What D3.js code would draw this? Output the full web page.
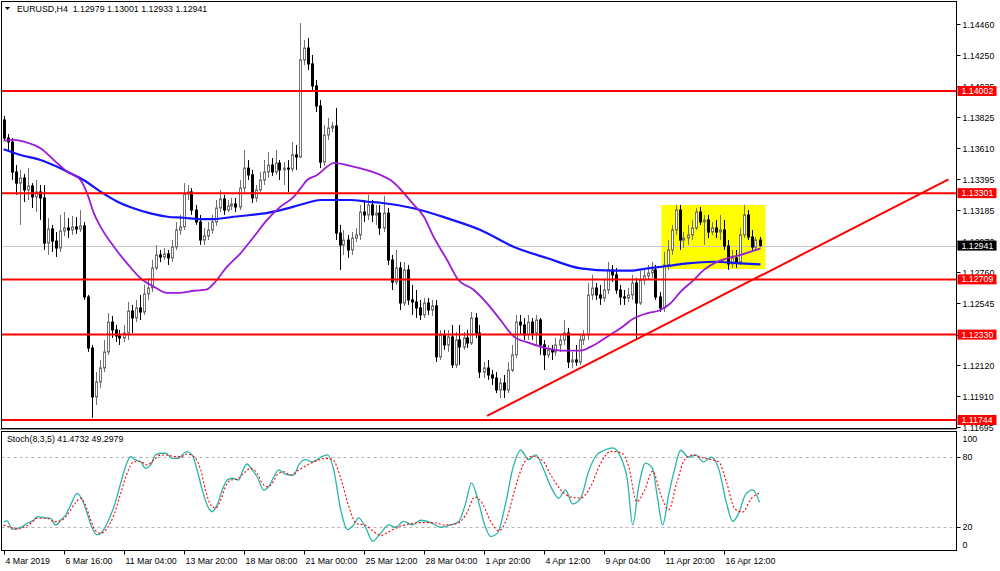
<!DOCTYPE html>
<html><head><meta charset="utf-8">
<script src="https://cdn.jsdelivr.net/npm/d3@7/dist/d3.min.js"></script>
<style>
body{margin:0;background:#fff}
svg{display:block}
text{font-family:"Liberation Sans",Arial,sans-serif;font-size:8.8px;fill:#000;white-space:pre}
</style>
</head><body>
<svg id="c" width="1000" height="571"></svg>
<script>
// ---------------- DATA ----------------
const symbolTitle = "EURUSD,H4  1.12979 1.13001 1.12933 1.12941";
const stochTitle = "Stoch(8,3,5) 41.4732 49.2979";
const timeLabels = ["4 Mar 2019","6 Mar 16:00","11 Mar 04:00","13 Mar 20:00","18 Mar 08:00","21 Mar 00:00","25 Mar 12:00","28 Mar 04:00","1 Apr 20:00","4 Apr 12:00","9 Apr 04:00","11 Apr 20:00","16 Apr 12:00"];
const timeLabelBars = [0,15,30,45,60,75,90,105,120,135,150,165,180];
const priceTicks = [1.11695,1.11910,1.12120,1.12330,1.12545,1.12760,1.12970,1.13185,1.13395,1.13610,1.13825,1.14035,1.14250,1.14460];
const stochTicks = [0,20,80,100];
const stochLevels = [20,80];

const open = [1.13803,1.13679,1.13652,1.13446,1.13370,1.13405,1.13323,1.13350,1.13275,1.13309,
1.13268,1.12958,1.13055,1.12972,1.12924,1.13041,1.13062,1.13048,1.13069,1.13055,
1.13076,1.12588,1.12238,1.11902,1.12005,1.12101,1.12211,1.12416,1.12362,1.12321,
1.12307,1.12341,1.12492,1.12444,1.12513,1.12485,1.12609,1.12650,1.12787,1.12877,
1.12863,1.12884,1.12856,1.12931,1.13048,1.13069,1.13296,1.13309,1.13185,1.13103,
1.12979,1.13007,1.13048,1.13103,1.13199,1.13261,1.13185,1.13213,1.13227,1.13206,
1.13336,1.13473,1.13426,1.13268,1.13323,1.13391,1.13446,1.13494,1.13446,1.13507,
1.13460,1.13473,1.13466,1.13563,1.13549,1.14215,1.14297,1.14188,1.14037,1.13899,
1.13514,1.13700,1.13748,1.13762,1.13027,1.12945,1.12979,1.12911,1.12993,1.13014,
1.13171,1.13151,1.13220,1.13151,1.13164,1.13062,1.13164,1.12842,1.12691,1.12787,
1.12547,1.12774,1.12568,1.12554,1.12513,1.12465,1.12547,1.12499,1.12527,1.12177,
1.12328,1.12259,1.12314,1.12122,1.12293,1.12245,1.12307,1.12272,1.12444,1.12341,
1.12073,1.12101,1.12053,1.12032,1.11950,1.11998,1.11950,1.12087,1.12191,1.12416,
1.12396,1.12328,1.12416,1.12341,1.12430,1.12259,1.12191,1.12225,1.12211,1.12259,
1.12293,1.12341,1.12142,1.12156,1.12142,1.12293,1.12328,1.12602,1.12650,1.12602,
1.12581,1.12636,1.12774,1.12740,1.12636,1.12588,1.12581,1.12602,1.12684,1.12547,
1.12705,1.12733,1.12753,1.12774,1.12588,1.12513,1.12808,1.12911,1.13048,1.13185,
1.12979,1.12993,1.13014,1.13062,1.13171,1.13103,1.13117,1.13034,1.13062,1.13034,
1.13048,1.12938,1.12815,1.12856,1.12828,1.13014,1.13151,1.13000,1.12931,1.12979];

const close = [1.13679,1.13652,1.13446,1.13370,1.13405,1.13323,1.13350,1.13275,1.13309,1.13268,
1.12958,1.13055,1.12972,1.12924,1.13041,1.13062,1.13048,1.13069,1.13055,1.13076,
1.12588,1.12238,1.11902,1.12005,1.12101,1.12211,1.12416,1.12362,1.12321,1.12307,
1.12341,1.12492,1.12444,1.12513,1.12485,1.12609,1.12650,1.12787,1.12877,1.12863,
1.12884,1.12856,1.12931,1.13048,1.13069,1.13296,1.13309,1.13185,1.13103,1.12979,
1.13007,1.13048,1.13103,1.13199,1.13261,1.13185,1.13213,1.13227,1.13206,1.13336,
1.13473,1.13426,1.13268,1.13323,1.13391,1.13446,1.13494,1.13446,1.13507,1.13460,
1.13473,1.13466,1.13563,1.13549,1.14215,1.14297,1.14188,1.14037,1.13899,1.13514,
1.13700,1.13748,1.13762,1.13027,1.12945,1.12979,1.12911,1.12993,1.13014,1.13171,
1.13151,1.13220,1.13151,1.13164,1.13062,1.13164,1.12842,1.12691,1.12787,1.12547,
1.12774,1.12568,1.12554,1.12513,1.12465,1.12547,1.12499,1.12527,1.12177,1.12328,
1.12259,1.12314,1.12122,1.12293,1.12245,1.12307,1.12272,1.12444,1.12341,1.12073,
1.12101,1.12053,1.12032,1.11950,1.11998,1.11950,1.12087,1.12191,1.12416,1.12396,
1.12328,1.12416,1.12341,1.12430,1.12259,1.12191,1.12225,1.12211,1.12259,1.12293,
1.12341,1.12142,1.12156,1.12142,1.12293,1.12328,1.12602,1.12650,1.12602,1.12581,
1.12636,1.12774,1.12740,1.12636,1.12588,1.12581,1.12602,1.12684,1.12547,1.12705,
1.12733,1.12753,1.12774,1.12588,1.12513,1.12808,1.12911,1.13048,1.13185,1.12979,
1.12993,1.13014,1.13062,1.13171,1.13103,1.13117,1.13034,1.13062,1.13034,1.13048,
1.12938,1.12815,1.12856,1.12828,1.13014,1.13151,1.13000,1.12931,1.12979,1.12941];

const high = [1.13831,1.13707,1.13679,1.13494,1.13460,1.13433,1.13473,1.13370,1.13391,1.13357,
1.13357,1.13130,1.13083,1.13034,1.13151,1.13171,1.13130,1.13144,1.13137,1.13185,
1.13103,1.12602,1.12259,1.12073,1.12156,1.12293,1.12478,1.12458,1.12396,1.12362,
1.12396,1.12554,1.12534,1.12568,1.12602,1.12671,1.12719,1.12842,1.12945,1.12911,
1.12924,1.12911,1.12979,1.13103,1.13151,1.13370,1.13357,1.13336,1.13220,1.13151,
1.13062,1.13103,1.13151,1.13254,1.13323,1.13289,1.13254,1.13268,1.13268,1.13391,
1.13597,1.13528,1.13460,1.13357,1.13446,1.13528,1.13583,1.13542,1.13597,1.13528,
1.13514,1.13528,1.13652,1.13632,1.14468,1.14352,1.14366,1.14249,1.14078,1.13940,
1.13769,1.13817,1.13789,1.13886,1.13083,1.13048,1.13014,1.13034,1.13062,1.13220,
1.13254,1.13289,1.13254,1.13220,1.13220,1.13282,1.13199,1.12877,1.12911,1.12828,
1.12828,1.12808,1.12671,1.12636,1.12568,1.12581,1.12581,1.12568,1.12568,1.12362,
1.12362,1.12362,1.12396,1.12348,1.12396,1.12348,1.12362,1.12485,1.12478,1.12396,
1.12142,1.12156,1.12087,1.12073,1.12032,1.12053,1.12142,1.12259,1.12465,1.12465,
1.12444,1.12465,1.12444,1.12465,1.12444,1.12293,1.12259,1.12259,1.12307,1.12328,
1.12430,1.12376,1.12211,1.12259,1.12328,1.12362,1.12684,1.12740,1.12684,1.12671,
1.12705,1.12828,1.12808,1.12787,1.12671,1.12636,1.12650,1.12740,1.12719,1.12767,
1.12787,1.12808,1.12828,1.12808,1.12622,1.12897,1.12979,1.13083,1.13220,1.13220,
1.13034,1.13083,1.13117,1.13199,1.13206,1.13151,1.13151,1.13103,1.13117,1.13151,
1.13117,1.12979,1.12911,1.12911,1.13062,1.13220,1.13185,1.13048,1.13000,1.13001];

const low = [1.13659,1.13597,1.13391,1.13289,1.13083,1.13240,1.13254,1.13199,1.13171,1.13117,
1.12911,1.12877,1.12897,1.12863,1.12897,1.13007,1.12993,1.13014,1.13021,1.13034,
1.12568,1.12211,1.11758,1.11847,1.11964,1.12073,1.12191,1.12307,1.12279,1.12259,
1.12279,1.12293,1.12341,1.12416,1.12430,1.12465,1.12568,1.12622,1.12774,1.12828,
1.12842,1.12808,1.12828,1.12911,1.13014,1.13048,1.13254,1.13151,1.13083,1.12945,
1.12945,1.12979,1.13021,1.13076,1.13171,1.13151,1.13171,1.13185,1.13171,1.13185,
1.13309,1.13391,1.13233,1.13240,1.13309,1.13357,1.13405,1.13419,1.13426,1.13391,
1.13357,1.13309,1.13446,1.13460,1.13542,1.14181,1.14146,1.14009,1.13858,1.13473,
1.13487,1.13666,1.13720,1.12979,1.12774,1.12877,1.12856,1.12877,1.12965,1.12979,
1.13103,1.13117,1.13103,1.13083,1.13014,1.13034,1.12808,1.12636,1.12671,1.12499,
1.12527,1.12534,1.12465,1.12444,1.12430,1.12444,1.12465,1.12458,1.12142,1.12156,
1.12225,1.12211,1.12101,1.12101,1.12122,1.12225,1.12238,1.12259,1.12307,1.12032,
1.12032,1.12019,1.11985,1.11929,1.11895,1.11895,1.11929,1.12073,1.12170,1.12328,
1.12293,1.12293,1.12293,1.12259,1.12191,1.12087,1.12170,1.12156,1.12184,1.12211,
1.12259,1.12101,1.12101,1.12115,1.12122,1.12259,1.12293,1.12568,1.12568,1.12534,
1.12554,1.12609,1.12691,1.12609,1.12534,1.12534,1.12554,1.12568,1.12293,1.12534,
1.12671,1.12705,1.12719,1.12568,1.12485,1.12485,1.12774,1.12877,1.13014,1.12911,
1.12924,1.12945,1.12979,1.13048,1.13083,1.12945,1.12993,1.13014,1.12993,1.12979,
1.12911,1.12774,1.12787,1.12787,1.12808,1.12993,1.12979,1.12911,1.12911,1.12933];

// moving averages: [bar index, price]
const maBlue = [[0,1.13602],[4.25,1.13563],[9.25,1.13528],[14.25,1.13471],[16.75,1.13437],[20,1.13391],[24.25,1.13311],[28.5,1.13242],[32.5,1.13197],[36.75,1.13162],[41,1.13139],[45,1.13132],[49.25,1.13123],[52.5,1.13123],[57.5,1.13139],[61.75,1.13151],[66,1.13166],[70,1.13190],[72.5,1.13208],[76,1.13235],[79.25,1.13254],[82.5,1.13254],[86.75,1.13254],[91,1.13242],[94.25,1.13235],[102.5,1.13197],[111,1.13128],[119.25,1.13048],[127.5,1.12933],[136,1.12854],[144.25,1.12785],[152.5,1.12769],[156.75,1.12769],[161,1.12785],[166,1.12801],[171,1.12819],[177.5,1.12830],[184.25,1.12819],[189.25,1.12812]];
const maPurple = [[0,1.13661],[2.6,1.13666],[5.9,1.13648],[9.25,1.13609],[12.6,1.13528],[15.9,1.13448],[19.25,1.13391],[20.9,1.13300],[22.6,1.13162],[24.25,1.13071],[27.6,1.12933],[30.9,1.12819],[34.25,1.12717],[37.6,1.12659],[40.9,1.12617],[44.25,1.12617],[47.6,1.12631],[50.9,1.12641],[52.6,1.12682],[55.9,1.12796],[59.25,1.12888],[62.6,1.13002],[65.9,1.13117],[69.25,1.13208],[72.6,1.13277],[74.25,1.13334],[75.9,1.13391],[78.4,1.13426],[80.9,1.13482],[82.6,1.13509],[85.9,1.13494],[89.25,1.13471],[94.25,1.13426],[96.75,1.13391],[102.6,1.13220],[105.1,1.13139],[107.5,1.13002],[110.9,1.12842],[113.4,1.12717],[117.6,1.12636],[120.9,1.12545],[124.25,1.12430],[127.6,1.12316],[131.75,1.12270],[135.9,1.12236],[140.1,1.12220],[144.25,1.12220],[147.6,1.12259],[150.9,1.12316],[154.25,1.12373],[157.6,1.12442],[160.9,1.12476],[164.25,1.12499],[166.75,1.12545],[169.25,1.12624],[172.6,1.12705],[175.1,1.12774],[177.6,1.12819],[180.9,1.12854],[184.25,1.12877],[187.6,1.12906],[189.25,1.12922]];

// stochastic: [bar index, value]
const stochMain = [[0.1,24.8],[0.9,25.4],[2.2,18.3],[3.4,19.1],[4.7,20.5],[5.9,23.4],[7.6,26.2],[8.4,29.1],[10.1,28.2],[11.8,27.7],[13,21.9],[14.3,26.2],[15.5,30.5],[16.8,39.1],[18.4,49.1],[19.7,43.4],[20.9,32],[22.2,19.1],[23.4,13.4],[24.7,16.2],[25.9,23.4],[27.6,37.6],[29.3,57.7],[30.5,71.9],[31.8,80.5],[33,77.7],[34.3,76.2],[35.5,70.5],[36.8,73.4],[38,81.9],[39.3,83.4],[40.5,83.4],[42.2,79.1],[43.8,79.1],[45.1,83.4],[45.9,84.8],[47.2,81.9],[48.4,69.1],[49.7,51.9],[50.9,39.1],[52.2,33.3],[53.4,39.1],[54.7,51.9],[55.9,60.5],[57.2,62],[58.8,60.5],[59.7,67.6],[60.9,74.2],[62.2,69.1],[63.4,63.3],[65.1,51.9],[66.3,54.8],[67.6,63.3],[68.8,69.1],[70.1,66.3],[71.3,64.8],[72.6,64.8],[73.8,73.4],[75.5,78],[77.3,76],[79.3,80],[81,82],[82.5,70],[84.3,35],[86,18],[87.5,22],[88.8,28],[90.5,20],[92.3,8],[94.3,15],[96.3,22],[98,20],[100,25],[102.3,22],[104.3,26],[106.8,24],[109.3,20],[111.8,22],[113.8,25],[115.5,40],[117,58],[118.5,45],[120.3,22],[121.8,12],[123.5,15],[125.5,40],[127.3,70],[129.3,86],[131.3,78],[133,82],[135,70],[136.8,55],[138.8,45],[140.5,52],[142.3,40],[144.3,45],[146.3,68],[148.3,82],[150.3,86],[152.3,88],[154.3,80],[156,60],[157.3,22],[158.8,55],[160.5,75],[162.3,70],[163.5,45],[164.8,22],[166.3,48],[167.8,70],[169.3,86],[171.3,80],[173,82],[175,76],[177,80],[178.8,70],[180.8,40],[182.3,25],[183.8,32],[185.5,48],[187.3,52],[189,41.47]];
const stochSignal = [[0,21.9],[1.8,20],[3.4,18.3],[5.1,20],[6.8,23.4],[8.4,27.7],[10.9,27.7],[12.6,24.8],[14.3,25.4],[15.9,30.5],[17.6,39.1],[19.3,44.8],[20.5,39.1],[21.8,26.2],[23,17.1],[24.3,14.8],[25.9,19.1],[27.6,30.5],[29.3,49.1],[30.9,66.3],[32.6,76.2],[34.3,76.2],[35.9,73.4],[37.6,77.7],[39.3,81.9],[40.9,81.9],[42.6,80.5],[44.3,80.5],[45.9,82.8],[47.6,80.5],[49.3,69.1],[50.5,51.9],[51.8,39.1],[53,36.3],[54.3,43.4],[55.5,54.8],[56.8,60.5],[58.4,61.1],[60.1,66.3],[61.8,70.5],[63.4,66.3],[64.7,57.7],[65.9,54.8],[67.2,57.7],[68.4,64.8],[70.1,67.6],[71.8,64.8],[73.8,69.1],[76.3,74],[78.3,77],[80.3,79],[82.3,78],[84.3,62],[86.3,38],[88.3,23],[90.3,22],[92.3,17],[94.3,13],[96.8,17],[99.3,21],[101.8,23],[104.3,24],[107.3,24],[110.3,22],[113.3,23],[115.8,32],[117.8,46],[119.8,40],[121.8,25],[123.8,17],[125.8,27],[127.8,52],[130.3,76],[132.3,81],[134.8,77],[136.8,65],[139.3,52],[141.8,46],[144.3,45],[146.8,55],[149.3,75],[151.8,85],[154.3,84],[156.3,72],[158.3,42],[160.3,52],[162.3,68],[164.3,48],[166.3,35],[168.3,58],[170.3,78],[172.3,82],[174.3,80],[176.8,78],[178.8,76],[180.8,58],[182.8,36],[184.8,33],[186.8,44],[189,49.3]];

// chart objects
const hLevels = [1.14002,1.13301,1.12709,1.12330,1.11744];
const lastPrice = 1.12941;
const trendLine = [[120.9,1.11772],[236.25,1.13395]];
const zoneBars = [164.5,190.5];
const zonePrices = [1.12780,1.13220];

// ---------------- LAYOUT ----------------
const L = 1.5, R = 956.5;
const mainTop = 1.5, mainBot = 428.5;
const stTop = 431.5, stBot = 550.5;

const svg = d3.select("#c");
const x = d3.scaleLinear().domain([0, 100]).range([3.5, 403.5]);
const y = d3.scaleLinear().domain([1.11689, 1.14606]).range([428, 3]);
const ys = d3.scaleLinear().domain([0, 100]).range([550.6, 433.9]);

const defs = svg.append("defs");
defs.append("clipPath").attr("id","cm").append("rect").attr("x",L+0.5).attr("y",mainTop+0.5).attr("width",R-L-1).attr("height",mainBot-mainTop-1);
defs.append("clipPath").attr("id","cs").append("rect").attr("x",L+0.5).attr("y",stTop+0.5).attr("width",R-L-1).attr("height",stBot-stTop-1);

const gm = svg.append("g").attr("clip-path","url(#cm)");
const gs = svg.append("g").attr("clip-path","url(#cs)");

// yellow zone
gm.append("rect")
  .attr("x", x(zoneBars[0])).attr("width", x(zoneBars[1]) - x(zoneBars[0]))
  .attr("y", y(zonePrices[1])).attr("height", y(zonePrices[0]) - y(zonePrices[1]))
  .attr("fill", "#ffff00");

// current price line
gm.append("line").attr("x1",L).attr("x2",R).attr("y1",Math.round(y(lastPrice))+0.5).attr("y2",Math.round(y(lastPrice))+0.5)
  .attr("stroke","#c8c8c8").attr("stroke-width",1);

// candles
const bars = d3.range(close.length).map(i => ({i, o:open[i], h:high[i], l:low[i], c:close[i]}));
const cg = gm.append("g");
bars.forEach(d => {
  const cx = Math.round(x(d.i)) + 0.5;
  const up = d.c >= d.o;
  const col = up ? "#707070" : "#000";
  cg.append("line").attr("x1",cx).attr("x2",cx).attr("y1",y(d.h)).attr("y2",y(d.l)).attr("stroke",col).attr("stroke-width",1);
  const top = Math.min(y(d.o), y(d.c)), bot = Math.max(y(d.o), y(d.c));
  cg.append("rect").attr("x",cx-1).attr("width",2).attr("y",top).attr("height",Math.max(bot-top,0.5))
    .attr("fill", up ? "#fff" : "#000").attr("stroke", col).attr("stroke-width",1);
});

// moving averages
const maLine = d3.line().x(d => x(d[0])).y(d => y(d[1])).curve(d3.curveMonotoneX);
gm.append("path").attr("d", maLine(maBlue)).attr("fill","none").attr("stroke","#1414ff").attr("stroke-width",2.2);
gm.append("path").attr("d", maLine(maPurple)).attr("fill","none").attr("stroke","#9a1ad6").attr("stroke-width",1.8);

// horizontal levels
hLevels.forEach(p => {
  gm.append("line").attr("x1",L).attr("x2",R).attr("y1",y(p)).attr("y2",y(p)).attr("stroke","#ff0000").attr("stroke-width",2);
});
// trend line
gm.append("line")
  .attr("x1",x(trendLine[0][0])).attr("y1",y(trendLine[0][1]))
  .attr("x2",x(trendLine[1][0])).attr("y2",y(trendLine[1][1]))
  .attr("stroke","#ff0000").attr("stroke-width",2);

// stochastic
stochLevels.forEach(v => {
  gs.append("line").attr("x1",L).attr("x2",R).attr("y1",Math.round(ys(v))+0.5).attr("y2",Math.round(ys(v))+0.5)
    .attr("stroke","#b4b4b4").attr("stroke-width",1).attr("stroke-dasharray","3,3");
});
const stLine = d3.line().x(d => x(d[0])).y(d => ys(d[1])).curve(d3.curveMonotoneX);
gs.append("path").attr("d", stLine(stochMain)).attr("fill","none").attr("stroke","#2ab5aa").attr("stroke-width",1.3);
gs.append("path").attr("d", stLine(stochSignal)).attr("fill","none").attr("stroke","#ff0000").attr("stroke-width",1.1).attr("stroke-dasharray","2,2");

// frames
svg.append("rect").attr("x",L).attr("y",mainTop).attr("width",R-L).attr("height",mainBot-mainTop).attr("fill","none").attr("stroke","#000").attr("stroke-width",1);
svg.append("rect").attr("x",L).attr("y",stTop).attr("width",R-L).attr("height",stBot-stTop).attr("fill","none").attr("stroke","#000").attr("stroke-width",1);
svg.append("line").attr("x1",0).attr("x2",R).attr("y1",429.5).attr("y2",429.5).attr("stroke","#9a9a9a");

// price axis
const pa = svg.append("g");
priceTicks.forEach(p => {
  const yy = Math.round(y(p)) + 0.5;
  pa.append("line").attr("x1",R).attr("x2",R+4).attr("y1",yy).attr("y2",yy).attr("stroke","#000");
  pa.append("text").attr("x",R+6).attr("y",yy).attr("dy","0.35em").text(p.toFixed(5));
});
// level labels
hLevels.forEach(p => {
  const yy = y(p);
  pa.append("rect").attr("x",R+1).attr("y",yy-5).attr("width",39).attr("height",10).attr("fill","#ff0000");
  pa.append("text").attr("x",R+5).attr("y",yy).attr("dy","0.35em").style("fill","#fff").text(p.toFixed(5));
});
{
  const yy = y(lastPrice);
  pa.append("rect").attr("x",R+1).attr("y",yy-5).attr("width",39).attr("height",10).attr("fill","#000");
  pa.append("text").attr("x",R+5).attr("y",yy).attr("dy","0.35em").style("fill","#fff").text(lastPrice.toFixed(5));
}

// stoch axis
stochTicks.forEach(v => {
  const yy = Math.round(ys(v)) + 0.5;
  if (v > 0 && v < 100) pa.append("line").attr("x1",R).attr("x2",R+4).attr("y1",yy).attr("y2",yy).attr("stroke","#000");
  const ty = v === 100 ? ys(v) + 5 : (v === 0 ? ys(v) - 6 : ys(v));
  pa.append("text").attr("x",R+6).attr("y",ty).attr("dy","0.35em").text(String(v));
});

// time axis
const ta = svg.append("g");
timeLabelBars.forEach((b, k) => {
  const xx = Math.round(x(b)) + 0.5;
  ta.append("line").attr("x1",xx).attr("x2",xx).attr("y1",stBot).attr("y2",stBot+4).attr("stroke","#000");
  ta.append("text").attr("x",xx+1).attr("y",564).text(timeLabels[k]);
});

// titles
svg.append("path").attr("d","M5,7 L10,7 L7.5,10 Z").attr("fill","#000");
svg.append("text").attr("x",17).attr("y",11.5).text(symbolTitle);
svg.append("text").attr("x",7).attr("y",442).text(stochTitle);
</script>
</body></html>
